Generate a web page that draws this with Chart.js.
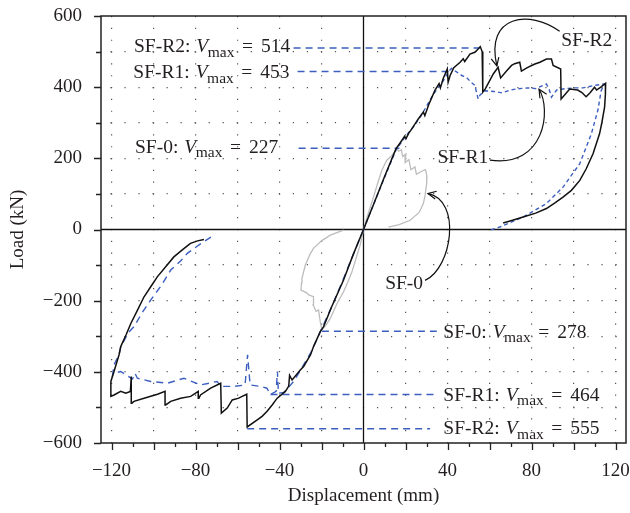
<!DOCTYPE html>
<html>
<head>
<meta charset="utf-8">
<script src="https://cdn.jsdelivr.net/npm/chart.js@4.4.0/dist/chart.umd.min.js"></script>
<style>
  html, body { margin: 0; padding: 0; background: #fff; }
</style>
</head>
<body>
<canvas id="loadChart" width="630" height="513"></canvas>
<script>
// SF-R2 (black, solid)
const r2PosDisp = [0, 5, 10, 15.5, 18, 19.6, 20.2, 21.5, 23, 26, 28.5, 29.2, 31, 34, 36, 36.6, 38, 39.9, 40.3, 41.2, 43, 46, 47.5, 48.2, 50.7, 53, 54.6, 55.6, 56.5, 56.8, 58, 61.8, 64.1, 65.3, 68, 70.5, 72, 74.4, 75.2, 78, 81.6, 84, 87.1, 89.5, 90.3, 93.9, 94.1, 98.2, 102, 104, 106, 108, 110, 111, 113, 115.3, 115.2, 114.8, 113.5, 112.4, 109.3, 106, 103, 99, 95, 91, 87.1, 82, 76, 71, 66.5];
const r2PosLoad = [0, 74, 148, 227, 248, 262, 255, 270, 283, 310, 330, 320, 350, 391, 410, 398, 425, 451, 414, 432, 455, 470, 480, 472, 493, 498, 507, 514, 500, 386, 395, 437, 456, 426, 445, 461, 466, 470, 445, 455, 465, 470, 479, 479, 461, 451, 367, 395, 392, 385, 373, 385, 400, 392, 400, 411, 380, 344, 300, 269, 213, 170, 138, 110, 91, 74, 59, 46, 35, 26, 18.5];
const r2NegDisp = [0, -5, -9.5, -15, -19, -20.6, -23.8, -25.2, -28.5, -30.1, -34, -35.2, -35.6, -37.2, -41.1, -43.5, -45.9, -48.3, -50.6, -55.4, -55.6, -57.8, -59.4, -62.5, -64.9, -67.7, -68, -72.8, -77.6, -78.4, -78.7, -82.3, -87.1, -91.8, -94.2, -94.5, -98.1, -104.5, -109.3, -110.3, -110.6, -111, -113.2, -115.6, -118.8, -120.3, -120.3, -118.8, -116.4, -115.6, -113, -110.8, -107.5, -104.5, -101, -98.2, -94, -90.3, -86, -82.4, -79, -76];
const r2NegLoad = [0, -72, -142, -215, -273, -287, -329, -352, -385, -395, -423, -410, -440, -455, -474, -493, -511, -525, -535, -555, -463, -469, -474, -479, -502, -516, -432, -446, -465, -474, -455, -469, -474, -483, -493, -455, -463, -474, -483, -488, -413, -455, -460, -455, -465, -469, -427, -399, -352, -329, -295, -264, -225, -189, -158, -133, -103, -77, -56, -39, -32, -28];

// SF-R1 (blue, dashed)
const r1PosDisp = [0, 10, 15.5, 20, 24, 27, 30, 33, 36, 38, 40.5, 42, 43.5, 45, 47, 49, 51, 53, 54.6, 55.5, 58, 62, 66, 70, 73, 78, 82, 87.1, 88.5, 89.5, 92, 95, 100, 104.5, 110, 114.8, 113.2, 111.6, 108.5, 103, 95, 87.1, 76, 64.9, 60.2];
const r1PosLoad = [0, 146, 224, 262, 290, 316, 346, 378, 402, 418, 444, 453, 446, 440, 432, 428, 415, 405, 367, 378, 390, 388, 384, 392, 395, 398, 396, 409, 392, 372, 392, 395, 398, 398, 405, 409, 391, 335, 269, 185, 119, 73, 35, 7, -2];
const r1NegDisp = [0, -5, -10, -15, -20, -25, -30, -33, -36, -38, -40.5, -41, -41.6, -44.3, -46, -49, -54, -55.2, -56.4, -61.8, -68, -69.7, -77.6, -85.5, -93.4, -101.3, -107.7, -108.8, -110, -115.6, -118.8, -119.5, -118.8, -116.4, -115.6, -112, -109.3, -105, -101.3, -96, -91.8, -87, -83.9, -78, -72];
const r1NegLoad = [0, -72, -145, -215, -280, -345, -395, -425, -446, -458, -460, -399, -455, -464, -446, -441, -437, -352, -437, -441, -441, -427, -437, -418, -432, -427, -418, -404, -420, -399, -404, -409, -380, -352, -330, -290, -273, -230, -198, -155, -114, -88, -67, -42, -19];

// SF-0 (grey, solid)
const f0PosDisp = [0, 2, 4.75, 7, 8.7, 11, 13.5, 15.9, 16.8, 18, 18.7, 20.2, 19.8, 21.6, 22.6, 24.5, 25.2, 27.5, 29.5, 30.2, 30.1, 29.3, 28.5, 26.5, 22.2, 17, 11.9];
const f0PosLoad = [0, 40, 91, 135, 166, 194, 208, 227, 220, 224, 205, 212, 188, 196, 168, 176, 155, 163, 168, 150, 130, 95, 73, 48, 26, 14, 7];
const f0NegDisp = [0, -1.6, -3.5, -5.5, -7.5, -9.5, -12.6, -15.8, -18, -19.8, -20.6, -21.4, -22.6, -24, -23.8, -26.1, -27, -29.8, -29.5, -29.3, -27.7, -25.5, -23.8, -20, -15.8, -9.5];
const f0NegLoad = [0, -44, -80, -119, -148, -175, -208, -250, -270, -282, -259, -226, -230, -212, -189, -184, -178, -170, -150, -137, -100, -70, -53, -32, -16, -2];

// Vmax marks
const vmaxNames = ['SF-R2', 'SF-R1', 'SF-0', 'SF-0', 'SF-R1', 'SF-R2'];
const vmaxValues = [514, 453, 227, 278, 464, 555];
const vmaxLevel = [510, 444, 228, -286, -464, -560];
const vmaxFrom = [-33.3, -31.4, -30.9, -19.8, -44.3, -55.4];
const vmaxTo = [55.4, 41.2, 17.1, 34.9, 34.9, 31.7];

// axis ticks
const xTickLabels = [-120, -80, -40, 0, 40, 80, 120];
const yTickLabels = [-600, -400, -200, 0, 200, 400, 600];

// label anchors (left x, baseline y in data units)
const vmaxTextX = [-109.3, -109.6, -108.8, 38, 38, 38];
const vmaxTextY = [498, 425, 216, -304, -481, -575];
const curveNames = ['SF-R2', 'SF-R1', 'SF-0'];
const curveTextX = [94.2, 35.2, 10.3];
const curveTextY = [517, 186, -166];
// arrow curves: start, ctrl1, ctrl2, tip
const arrowPaths = [
    [[93.4, 557], [79.2, 618], [57.8, 604], [63.5, 460]],
    [[60.2, 195], [86.3, 173], [89.6, 336], [83.6, 394]],
    [[29.3, -143], [42.2, -109], [46.9, 83], [30.7, 101]]
];

const SERIF = '"Liberation Serif", "Times New Roman", serif';
const TEXT = '#231f20';

function toPoints(xs, ys) {
    return xs.map((v, i) => ({ x: v, y: ys[i] }));
}

function curve(data, color, width, dash, order) {
    return {
        data: data,
        borderColor: color,
        borderWidth: width,
        borderDash: dash,
        pointRadius: 0,
        fill: false,
        tension: 0,
        order: order
    };
}

const datasets = [
    curve(toPoints(r2PosDisp, r2PosLoad), '#111', 1.5, [], 1),
    curve(toPoints(r2NegDisp, r2NegLoad), '#111', 1.5, [], 1),
    curve(toPoints(r1PosDisp, r1PosLoad), '#3c5fbf', 1.4, [4, 3], 2),
    curve(toPoints(r1NegDisp, r1NegLoad), '#3c5fbf', 1.4, [7, 5], 2),
    curve(toPoints(f0PosDisp, f0PosLoad), '#bdbdbd', 1.3, [], 3),
    curve(toPoints(f0NegDisp, f0NegLoad), '#bdbdbd', 1.3, [], 3)
];
vmaxLevel.forEach((lvl, i) => {
    datasets.push(curve([{ x: vmaxFrom[i], y: lvl }, { x: vmaxTo[i], y: lvl }], '#3c5fbf', 1.5, [7, 5], 4));
});

function minus(v) {
    return v < 0 ? '\u2212' + Math.abs(v) : String(v);
}

function drawVmaxText(ctx, px, py, name, value) {
    ctx.font = '19.5px ' + SERIF;
    ctx.fillText(name + ':', px, py);
    let cx = px + ctx.measureText(name + ':').width + 6;
    ctx.font = 'italic 19.5px ' + SERIF;
    ctx.fillText('V', cx, py);
    cx += ctx.measureText('V').width - 0.5;
    ctx.font = '15.5px ' + SERIF;
    ctx.fillText('max', cx, py + 4.5);
    cx += ctx.measureText('max').width + 7.5;
    ctx.font = '19.5px ' + SERIF;
    ctx.fillText('=', cx, py);
    cx += ctx.measureText('=').width + 8;
    ctx.fillText(String(value), cx, py);
}

const decorations = {
    id: 'decorations',
    beforeDatasetsDraw(chart) {
        const { ctx, chartArea: a, scales: { x, y } } = chart;
        ctx.save();
        ctx.strokeStyle = '#111';
        ctx.lineWidth = 1.3;
        ctx.beginPath();
        ctx.moveTo(a.left, y.getPixelForValue(0));
        ctx.lineTo(a.right, y.getPixelForValue(0));
        ctx.moveTo(x.getPixelForValue(0), a.top);
        ctx.lineTo(x.getPixelForValue(0), a.bottom);
        ctx.stroke();
        ctx.restore();
    },
    afterDatasetsDraw(chart) {
        const { ctx, chartArea: a, scales: { x, y } } = chart;
        ctx.save();

        // frame
        ctx.strokeStyle = '#222';
        ctx.lineWidth = 1.5;
        ctx.strokeRect(a.left, a.top, a.right - a.left, a.bottom - a.top);

        // tick marks
        ctx.lineWidth = 1.3;
        ctx.beginPath();
        x.ticks.forEach(t => {
            if (t.value % 10 !== 0) return;
            const px = Math.round(x.getPixelForValue(t.value)) + 0.5;
            const len = t.value % 20 === 0 ? 7 : 4;
            ctx.moveTo(px, a.bottom);
            ctx.lineTo(px, a.bottom + len);
        });
        y.ticks.forEach(t => {
            if (t.value % 100 !== 0) return;
            const py = Math.round(y.getPixelForValue(t.value)) + 0.5;
            const len = t.value % 200 === 0 ? 7 : 5;
            ctx.moveTo(a.left, py);
            ctx.lineTo(a.left - len, py);
        });
        ctx.stroke();

        // Vmax texts
        ctx.fillStyle = TEXT;
        ctx.textBaseline = 'alphabetic';
        ctx.textAlign = 'left';
        vmaxNames.forEach((name, i) => {
            drawVmaxText(ctx, x.getPixelForValue(vmaxTextX[i]), y.getPixelForValue(vmaxTextY[i]), name, vmaxValues[i]);
        });

        // curve names
        ctx.font = '19.5px ' + SERIF;
        curveNames.forEach((name, i) => {
            ctx.fillText(name, x.getPixelForValue(curveTextX[i]), y.getPixelForValue(curveTextY[i]));
        });

        // arrows
        ctx.strokeStyle = '#111';
        ctx.lineWidth = 1.2;
        arrowPaths.forEach(p => {
            const pts = p.map(q => [x.getPixelForValue(q[0]), y.getPixelForValue(q[1])]);
            ctx.beginPath();
            ctx.moveTo(pts[0][0], pts[0][1]);
            ctx.bezierCurveTo(pts[1][0], pts[1][1], pts[2][0], pts[2][1], pts[3][0], pts[3][1]);
            ctx.stroke();
            const ang = Math.atan2(pts[3][1] - pts[2][1], pts[3][0] - pts[2][0]);
            const hl = 9;
            ctx.beginPath();
            ctx.moveTo(pts[3][0] - hl * Math.cos(ang - 0.45), pts[3][1] - hl * Math.sin(ang - 0.45));
            ctx.lineTo(pts[3][0], pts[3][1]);
            ctx.lineTo(pts[3][0] - hl * Math.cos(ang + 0.45), pts[3][1] - hl * Math.sin(ang + 0.45));
            ctx.stroke();
        });

        ctx.restore();
    }
};

new Chart(document.getElementById('loadChart'), {
    type: 'line',
    data: { datasets: datasets },
    options: {
        responsive: false,
        animation: false,
        devicePixelRatio: 1,
        layout: { padding: { top: 16, right: 4, left: 0, bottom: 0 } },
        plugins: {
            legend: { display: false },
            tooltip: { enabled: false }
        },
        scales: {
            x: {
                type: 'linear',
                min: -125,
                max: 125,
                afterFit: scale => {
                    scale.height = 70;
                    scale.paddingLeft = 0;
                    scale.paddingRight = 0;
                },
                ticks: {
                    stepSize: 5,
                    autoSkip: false,
                    maxRotation: 0,
                    padding: 17,
                    color: TEXT,
                    font: { family: SERIF, size: 19 },
                    callback: v => xTickLabels.includes(v) ? minus(v) : ''
                },
                grid: {
                    drawTicks: false,
                    lineWidth: 1.2,
                    color: c => (c.tick && c.tick.value % 20 === 0 && c.tick.value !== 0) ? '#555' : 'rgba(0,0,0,0)'
                },
                border: { display: false, dash: [1.2, 10.63], dashOffset: 0 },
                title: {
                    display: true,
                    text: 'Displacement (mm)',
                    color: TEXT,
                    font: { family: SERIF, size: 19 },
                    padding: { top: 0, bottom: 6 }
                }
            },
            y: {
                type: 'linear',
                min: -600,
                max: 600,
                afterFit: scale => {
                    scale.width = 101;
                    scale.paddingTop = 0;
                    scale.paddingBottom = 0;
                },
                ticks: {
                    stepSize: 100,
                    autoSkip: false,
                    padding: 19,
                    color: TEXT,
                    font: { family: SERIF, size: 19 },
                    callback: v => yTickLabels.includes(v) ? minus(v) : ''
                },
                grid: {
                    drawTicks: false,
                    lineWidth: 1.2,
                    color: c => (c.tick && c.tick.value !== 0 && Math.abs(c.tick.value) < 600) ? '#555' : 'rgba(0,0,0,0)'
                },
                border: { display: false, dash: [1.2, 12.83], dashOffset: 4.63 },
                title: {
                    display: true,
                    text: 'Load (kN)',
                    color: TEXT,
                    font: { family: SERIF, size: 19 },
                    padding: { top: 7, bottom: 0 }
                }
            }
        }
    },
    plugins: [decorations]
});
</script>
</body>
</html>
